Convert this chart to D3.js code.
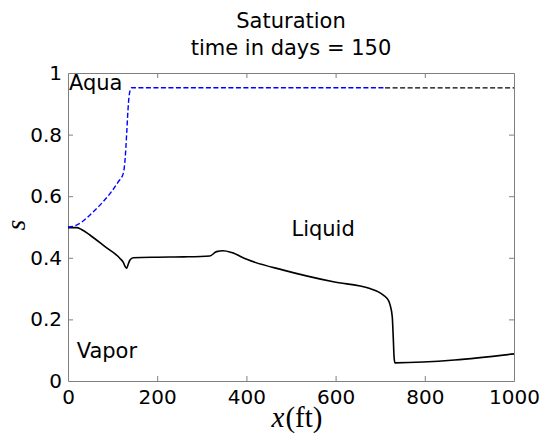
<!DOCTYPE html>
<html><head><meta charset="utf-8">
<script src="https://cdn.jsdelivr.net/npm/d3@7"></script>
<style>
html,body{margin:0;padding:0;background:#fff;}
svg{display:block;font-family:"DejaVu Sans",sans-serif;}
</style></head>
<body>
<script>
const titleLines = ["Saturation", "time in days = 150"];
const xTicks = [0, 200, 400, 600, 800, 1000];
const yTicks = [0, 0.2, 0.4, 0.6, 0.8, 1];
const yTickLabels = ["0", "0.2", "0.4", "0.6", "0.8", "1"];

const aquaX = [0, 15.7, 30, 50, 71.7, 95, 112.9, 124, 128, 131.6, 134.5, 136.8, 139, 142.8, 711];
const aquaS = [0.5, 0.504, 0.515, 0.54, 0.571, 0.61, 0.647, 0.674, 0.72, 0.804, 0.88, 0.923, 0.942, 0.952, 0.952];

const upperX = [711, 1000];
const upperS = [0.952, 0.952];

const vaporX = [0, 19.5, 30, 49, 83, 116.6, 124, 128, 131.6, 134, 139, 146.4, 200, 260, 318, 333, 348, 367, 400.7, 483, 595, 677, 707, 718, 722, 727, 729.5, 731, 733, 1000];
const vaporS = [0.498, 0.498, 0.492, 0.474, 0.436, 0.398, 0.385, 0.372, 0.366, 0.375, 0.393, 0.400, 0.402, 0.403, 0.406, 0.420, 0.423, 0.417, 0.395, 0.360, 0.322, 0.300, 0.279, 0.263, 0.248, 0.209, 0.133, 0.08, 0.059, 0.088];

const regionLabels = ["Aqua", "Liquid", "Vapor"];
const regionX = [2, 501, 19.5];
const regionS = [0.946, 0.471, 0.0735];

const W = 543, H = 440;
const m = {left: 68, right: 29, top: 73, bottom: 59};
const svg = d3.select("body").append("svg").attr("width", W).attr("height", H);
const x = d3.scaleLinear().domain([0, 1000]).range([m.left, W - m.right]);
const y = d3.scaleLinear().domain([0, 1]).range([H - m.bottom, m.top]);

const frameColor = "#7f7f7f";
const tickLen = 5;
const sans = "DejaVu Sans, sans-serif";

// axes (ticks inward)
const gB = svg.append("g").attr("transform", `translate(0,${y(0)})`)
  .call(d3.axisBottom(x).tickValues(xTicks).tickSizeInner(-tickLen).tickSizeOuter(0).tickPadding(9)
    .tickFormat(d3.format("d")));
const gT = svg.append("g").attr("transform", `translate(0,${y(1)})`)
  .call(d3.axisTop(x).tickValues(xTicks).tickSizeInner(-tickLen).tickSizeOuter(0).tickFormat(""));
const gL = svg.append("g").attr("transform", `translate(${x(0)},0)`)
  .call(d3.axisLeft(y).tickValues(yTicks).tickSizeInner(-tickLen).tickSizeOuter(0).tickPadding(6)
    .tickFormat((d, i) => yTickLabels[i]));
const gR = svg.append("g").attr("transform", `translate(${x(1000)},0)`)
  .call(d3.axisRight(y).tickValues(yTicks).tickSizeInner(-tickLen).tickSizeOuter(0).tickFormat(""));
[gB, gT, gL, gR].forEach(g => {
  g.selectAll("path.domain").attr("stroke", frameColor).attr("stroke-width", 1);
  g.selectAll(".tick line").attr("stroke", frameColor).attr("stroke-width", 1);
  g.selectAll(".tick text").attr("fill", "#000").attr("font-size", 20).attr("font-family", sans);
});
gB.selectAll(".tick line").filter(d => d === 0 || d === 1000).remove();
gT.selectAll(".tick line").filter(d => d === 0 || d === 1000).remove();
gL.selectAll(".tick line").filter(d => d === 0 || d === 1).remove();
gR.selectAll(".tick line").filter(d => d === 0 || d === 1).remove();

const line = d3.line().x(d => x(d[0])).y(d => y(d[1])).curve(d3.curveMonotoneX);

svg.append("path").datum(vaporX.map((v, i) => [v, vaporS[i]]))
  .attr("d", line).attr("fill", "none").attr("stroke", "#000").attr("stroke-width", 1.6);
svg.append("path").datum(upperX.map((v, i) => [v, upperS[i]]))
  .attr("d", line).attr("fill", "none").attr("stroke", "#000").attr("stroke-width", 1.3)
  .attr("stroke-dasharray", "5,2.5");
svg.append("path").datum(aquaX.map((v, i) => [v, aquaS[i]]))
  .attr("d", line).attr("fill", "none").attr("stroke", "#0000ff").attr("stroke-width", 1.4)
  .attr("stroke-dasharray", "5,2.5");

// region labels
svg.selectAll("text.region").data(regionLabels).enter().append("text")
  .attr("class", "region")
  .attr("x", (d, i) => x(regionX[i]))
  .attr("y", (d, i) => y(regionS[i]))
  .attr("font-size", 21).attr("font-family", sans).attr("fill", "#000")
  .text(d => d);

// title
svg.selectAll("text.title").data(titleLines).enter().append("text")
  .attr("class", "title")
  .attr("x", (x(0) + x(1000)) / 2)
  .attr("y", (d, i) => 28 + i * 26.5)
  .attr("text-anchor", "middle").attr("font-size", 21).attr("font-family", sans).attr("fill", "#000")
  .text(d => d);

// x label
const xl = svg.append("text").attr("x", 297).attr("y", 427)
  .attr("text-anchor", "middle").attr("font-family", "Liberation Serif, DejaVu Serif, serif")
  .attr("font-size", 29).attr("fill", "#000");
xl.append("tspan").attr("font-style", "italic").text("x");
xl.append("tspan").attr("dx", 1).text("(ft)");

// y label
svg.append("text").attr("transform", `translate(25,${(y(0) + y(1)) / 2 - 2}) rotate(-90)`)
  .attr("text-anchor", "middle").attr("font-family", "Liberation Serif, DejaVu Serif, serif")
  .attr("font-style", "italic").attr("font-size", 27).attr("fill", "#000").text("s");
</script>
</body></html>
